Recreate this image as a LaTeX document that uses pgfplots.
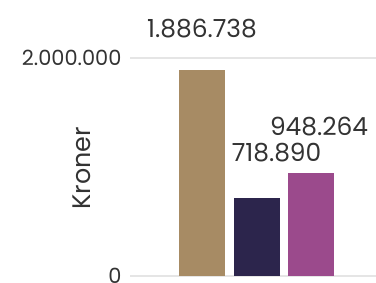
\documentclass[border=0pt]{standalone}
\usepackage{pgfplots}
\pgfplotsset{compat=1.18}
\usepackage{fontspec}
\setmainfont{Poppins}
\definecolor{cbrown}{RGB}{167,139,100}
\definecolor{cnavy}{RGB}{44,37,76}
\definecolor{cpurple}{RGB}{155,74,140}
\definecolor{ctext}{RGB}{51,51,51}
\begin{document}
\begin{tikzpicture}
\begin{axis}[
  at={(130bp,7bp)}, anchor=south west,
  scale only axis, width=246bp, height=218bp,
  xmin=-1.32, xmax=3.19, ymin=0, ymax=2000000,
  scaled y ticks=false,
  xtick=\empty, ytick={0,2000000}, yticklabels={0,2.000.000},
  ymajorgrids, grid style={draw=black!10, line width=1.5bp},
  axis line style={draw=none}, major tick length=0pt,
  yticklabel style={font=\fontsize{21}{21}\selectfont, text=ctext, anchor=east, xshift=-5bp},
  ylabel={Kroner},
  ylabel style={font=\fontsize{25.5}{25.5}\selectfont, text=ctext, at={(axis description cs:-0.195,0.495)}, anchor=center},
  ybar, bar width=0.844, bar shift=0pt,
  nodes near coords, point meta=explicit symbolic,
  every node near coord/.append style={font=\fontsize{25}{25}\selectfont, text=ctext, anchor=center},
  clip=false,
]
\addplot[fill=cbrown, draw=none, every node near coord/.append style={yshift=42bp}] coordinates {(0,1886738) [1.886.738]};
\addplot[fill=cnavy, draw=none, every node near coord/.append style={yshift=45bp, xshift=20bp}] coordinates {(1,718890) [718.890]};
\addplot[fill=cpurple, draw=none, every node near coord/.append style={yshift=46bp, xshift=8bp}] coordinates {(2,948264) [948.264]};
\end{axis}
\pgfresetboundingbox
\useasboundingbox (0,0) rectangle (376bp,283bp);
\end{tikzpicture}
\end{document}
